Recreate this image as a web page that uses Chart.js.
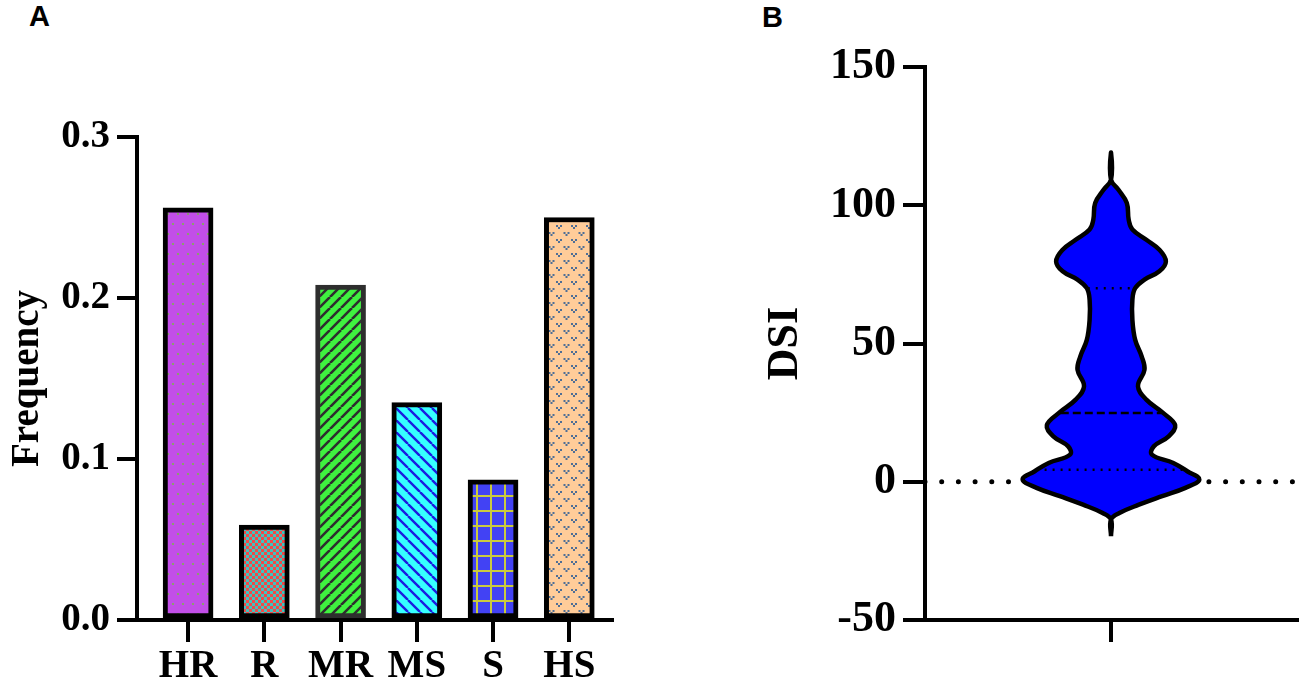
<!DOCTYPE html>
<html><head><meta charset="utf-8">
<script src="https://cdn.jsdelivr.net/npm/chart.js@4.4.1/dist/chart.umd.min.js"></script>
<style>
html,body{margin:0;padding:0;background:#fff;width:1299px;height:685px;overflow:hidden;position:relative}
canvas{position:absolute;top:0}
#cA{left:0}
#cB{left:640px}
.lab{position:absolute;font:bold 29px 'Liberation Sans',Arial,sans-serif;line-height:28px;color:#000}
</style></head><body>
<div class="lab" style="left:29px;top:2px">A</div>
<div class="lab" style="left:762px;top:3px">B</div>
<canvas id="cA" width="640" height="685"></canvas>
<canvas id="cB" width="659" height="685"></canvas>
<script>
// ---- Panel A data ----
const categories = ['HR', 'R', 'MR', 'MS', 'S', 'HS'];
const frequency = [0.256, 0.059, 0.208, 0.135, 0.087, 0.250];
const freqTicks = [0, 0.1, 0.2, 0.3];
// ---- Panel B data ----
const dsiTicks = [-50, 0, 50, 100, 150];
const violinDSI = [-19.7, -13.7, -11.3, -8.3, -5.2, -2.2, 0.8, 3.8, 6.8, 9.8, 12.8, 16.4, 20.4, 24.9, 29.7, 34.5, 40.5, 45.3, 51.3, 58.6, 65.8, 70.0, 73.1, 76.1, 79.7, 83.9, 87.5, 91.2, 94.8, 100.8, 105.6, 109.2, 119.1];
const violinDensity = [0, 0, 0.09, 0.30, 0.55, 0.80, 0.95, 0.82, 0.67, 0.44, 0.46, 0.62, 0.69, 0.56, 0.38, 0.29, 0.36, 0.33, 0.26, 0.23, 0.23, 0.26, 0.36, 0.52, 0.59, 0.52, 0.38, 0.23, 0.19, 0.17, 0.08, 0, 0];
const quartileDSI = [4.3, 24.9, 70.0];
const quartileDensity = [0.80, 0.54, 0.25];
const quartileDash = [[2, 6], [8, 4], [2, 6]];

const FONT = "'Liberation Serif', 'Times New Roman', serif";
const fontA = {family: FONT, size: 39, weight: 'bold'};
const fontB = {family: FONT, size: 44, weight: 'bold'};

function pat(w, h, bg, draw) {
  const c = document.createElement('canvas');
  c.width = w; c.height = h;
  const g = c.getContext('2d');
  g.fillStyle = bg; g.fillRect(0, 0, w, h);
  draw(g, w, h);
  return g.createPattern(c, 'repeat');
}
function stripes(g, s, color, lw, dir) {
  g.strokeStyle = color; g.lineWidth = lw; g.beginPath();
  for (let k = -1; k <= 1; k++) {
    if (dir > 0) { g.moveTo(k * s, s); g.lineTo(k * s + s, 0); }
    else { g.moveTo(k * s, 0); g.lineTo(k * s + s, s); }
  }
  g.stroke();
}
function vGroup(g, x, y) {
  g.fillRect(x - 3, y, 2, 2); g.fillRect(x + 1, y, 2, 2); g.fillRect(x - 1, y + 2, 2, 2);
}
const patterns = [
  pat(10, 20, '#C24EE8', (g) => { g.fillStyle = '#7FAE58'; g.beginPath(); g.arc(3, 4, 1.1, 0, 7); g.arc(8, 14, 1.1, 0, 7); g.fill(); }),
  pat(6, 6, '#3EC4C0', (g) => { g.fillStyle = '#F24848'; g.fillRect(0, 0, 3, 3); g.fillRect(3, 3, 3, 3); }),
  pat(11, 11, '#3FF23F', (g, w) => stripes(g, w, '#2E2E2E', 2.6, 1)),
  pat(12, 12, '#36FFFF', (g, w) => stripes(g, w, '#1C1CE0', 2.4, -1)),
  pat(14, 15, '#4242F4', (g, w, h) => { g.fillStyle = '#CACA3E'; g.fillRect(0, 0, w, 2); g.fillRect(0, 0, 2, h); }),
  pat(15, 14, '#FFCC99', (g) => { g.fillStyle = '#4E6E96'; vGroup(g, 4, 1); vGroup(g, 11.5, 8); })
];
const borderColors = ['#000', '#000', '#2E2E2E', '#000', '#000', '#000'];

const axisGrid = (tl) => ({display: true, drawOnChartArea: false, drawTicks: true, tickLength: tl, tickWidth: 4, tickColor: '#000', color: '#000', offset: false, lineWidth: 4});
const axisBorder = {display: true, width: 4, color: '#000'};

new Chart(document.getElementById('cA'), {
  type: 'bar',
  data: {
    datasets: [{
      data: categories.map((c, i) => ({x: i, y: frequency[i]})),
      backgroundColor: patterns,
      borderColor: borderColors,
      borderWidth: 5,
      borderSkipped: false,
      barThickness: 50
    }]
  },
  options: {
    responsive: false, animation: false, devicePixelRatio: 1,
    layout: {padding: {top: 137, right: 28, bottom: 0, left: 0}},
    plugins: {legend: {display: false}, tooltip: {enabled: false}},
    events: [],
    scales: {
      x: {
        type: 'linear', min: -0.67, max: 5.56, offset: false,
        afterBuildTicks: s => { s.ticks = categories.map((c, i) => ({value: i})); },
        afterFit: s => { s.height = 65; },
        ticks: {callback: v => categories[Math.round(v)], font: fontA, color: '#000', padding: 2, autoSkip: false, maxRotation: 0},
        grid: axisGrid(22), border: axisBorder
      },
      y: {
        min: 0, max: 0.3,
        afterBuildTicks: s => { s.ticks = freqTicks.map(v => ({value: v})); },
        afterFit: s => { s.width = 137; },
        ticks: {callback: v => Number(v).toFixed(1), font: fontA, color: '#000', padding: 7},
        grid: axisGrid(20), border: axisBorder,
        title: {display: true, text: 'Frequency', font: fontA, color: '#000', padding: {top: 5, bottom: 0}}
      }
    }
  }
});

// Violin outline: right side going up, then left side going down
const violinPts = [];
for (let i = 0; i < violinDSI.length; i++) violinPts.push({x: violinDensity[i], y: violinDSI[i]});
for (let i = violinDSI.length - 2; i >= 0; i--) violinPts.push({x: -violinDensity[i], y: violinDSI[i]});

const dsB = [
  {data: [{x: -2, y: 0}, {x: 2, y: 0}], showLine: true, borderColor: '#000', borderWidth: 5, borderDash: [0, 16.7], borderCapStyle: 'round', pointRadius: 0, order: 3},
  {data: violinPts, showLine: true, fill: 'shape', backgroundColor: '#0000FF', borderColor: '#000', borderWidth: 4.5, tension: 0.4, borderJoinStyle: 'round', borderCapStyle: 'butt', pointRadius: 0, order: 2}
];
quartileDSI.forEach((q, i) => {
  dsB.push({data: [{x: -quartileDensity[i], y: q}, {x: quartileDensity[i], y: q}], showLine: true, borderColor: '#000', borderWidth: 2.5, borderDash: quartileDash[i], pointRadius: 0, order: 1});
});

new Chart(document.getElementById('cB'), {
  type: 'scatter',
  data: {datasets: dsB},
  options: {
    responsive: false, animation: false, devicePixelRatio: 1,
    layout: {padding: {top: 67, right: 2, bottom: 0, left: 0}},
    plugins: {legend: {display: false}, tooltip: {enabled: false}},
    events: [],
    scales: {
      x: {
        type: 'linear', min: -2, max: 2,
        afterBuildTicks: s => { s.ticks = [{value: 0}]; },
        afterFit: s => { s.height = 65; },
        ticks: {callback: () => '', font: fontB},
        grid: axisGrid(22), border: axisBorder
      },
      y: {
        min: -50, max: 150,
        afterBuildTicks: s => { s.ticks = dsiTicks.map(v => ({value: v})); },
        afterFit: s => { s.width = 285; },
        ticks: {font: fontB, color: '#000', padding: 7},
        grid: axisGrid(22), border: axisBorder,
        title: {display: true, text: 'DSI', font: fontB, color: '#000', padding: {top: 119, bottom: 0}}
      }
    }
  }
});
</script>
</body></html>
